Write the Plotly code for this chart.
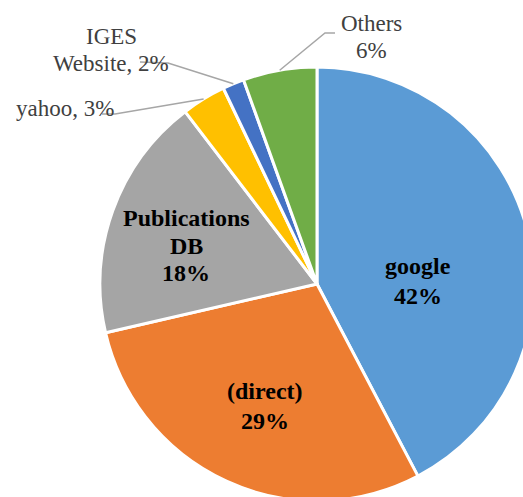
import math
import plotly.graph_objects as go

# ---- data ----
labels = ["google", "(direct)", "Publications DB", "yahoo", "IGES Website", "Others"]
values = [42.3, 29.1, 18.2, 3.3, 1.6, 5.5]
colors = ["#5B9BD5", "#ED7D31", "#A5A5A5", "#FFC000", "#4472C4", "#70AD47"]

# ---- geometry (pixels) ----
W, H = 535, 503
L, T, S = 100, 67, 434          # plot area left/top/size
CX, CY, R = L + S / 2, T + S / 2, S / 2

def px(x, y):
    return (x - L) / S, 1 - (y - T) / S

total = sum(values)
pct = [v / total for v in values]
cum = 0
mids = []
for p in pct:
    mids.append((cum + p / 2) * 2 * math.pi)
    cum += p

def edge_pt(i, rf=1.0):
    a = mids[i]
    return CX + R * rf * math.sin(a), CY - R * rf * math.cos(a)

fig = go.Figure(go.Pie(
    labels=labels, values=values, sort=False, direction="clockwise", rotation=0,
    marker=dict(colors=colors, line=dict(color="white", width=3)),
    textinfo="none", hoverinfo="label+percent", showlegend=False,
))

serif = "Liberation Serif"
ann = []
def add_lines(lines, x, ys, bold=False, color="#404040", size=23):
    for t, y in zip(lines, ys):
        xp, yp = px(x, y)
        ann.append(dict(text=f"<b>{t}</b>" if bold else t, x=xp, y=yp,
                        xref="paper", yref="paper",
                        showarrow=False, xanchor="center", yanchor="middle",
                        font=dict(family=serif, size=size, color=color)))

def fmt(i):
    return f"{round(pct[i] * 100)}%"

# inside bold labels
add_lines([labels[0], fmt(0)], 418, [266, 296], bold=True, color="black", size=24)
add_lines([labels[1], fmt(1)], 265, [391, 421], bold=True, color="black", size=24)
add_lines(["Publications", "DB", fmt(2)], 186, [217.5, 246, 273], bold=True, color="black", size=24)
# outside labels
add_lines([labels[5], fmt(5)], 371, [24, 51])
add_lines(["IGES", f"Website, {fmt(4)}"], 111, [37, 63])
add_lines([f"{labels[3]}, {fmt(3)}"], 65, [108])

shapes = []
def leader(i, pts):
    sx, sy = edge_pt(i)
    allp = [(sx, sy)] + pts
    path = ""
    for k, (x, y) in enumerate(allp):
        xp, yp = px(x, y)
        path += ("M" if k == 0 else " L") + f" {xp} {yp}"
    shapes.append(dict(type="path", path=path, xref="paper", yref="paper",
                       line=dict(color="#A6A6A6", width=1.5)))

leader(5, [(325, 33), (335, 33)])
leader(4, [(168, 63), (140, 62)])
leader(3, [(115, 114), (102, 114)])

fig.update_layout(
    width=W, height=H,
    margin=dict(l=L, r=W - L - S, t=T, b=H - T - S, autoexpand=False),
    paper_bgcolor="white", plot_bgcolor="white",
    annotations=ann, shapes=shapes,
)

fig.write_html("out.html", config={"displayModeBar": False}, post_script=(
    "document.documentElement.style.overflow='hidden';"
    "document.body.style.overflow='hidden';"
    "document.body.style.margin='0';"
))
